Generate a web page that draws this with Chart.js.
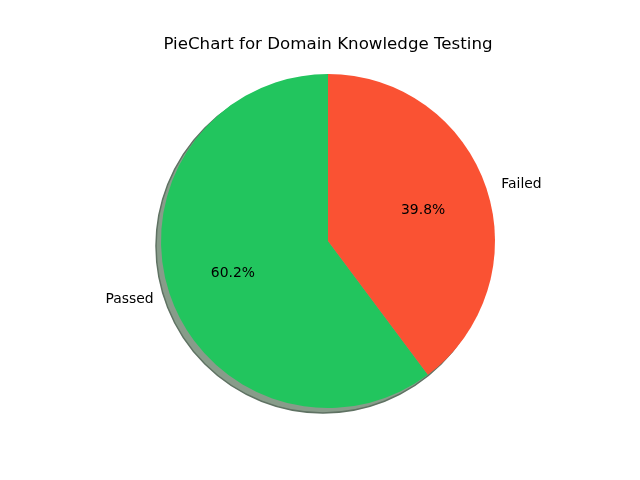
<!DOCTYPE html>
<html><head><meta charset="utf-8">
<script src="https://cdn.jsdelivr.net/npm/chart.js@4"></script>
<style>html,body{margin:0;padding:0;background:#fff;}#wrap{width:640px;height:480px;}</style>
</head><body><div id="wrap"><canvas id="c" width="640" height="480"></canvas></div>
<script>
const categories = ["Passed", "Failed"];
const values = [60.2, 39.8];
const colors = ["#22c55e", "#fa5233"];
const titleText = "PieChart for Domain Knowledge Testing";

const total = values.reduce((a, b) => a + b, 0);
// matplotlib startangle=90, counterclockwise -> Chart.js clockwise rotation
const rotation = 360 - values[0] / total * 360;

const decor = {
  id: 'decor',
  beforeDatasetsDraw(chart) {
    const meta = chart.getDatasetMeta(0);
    const a = meta.data[0];
    if (!a) return;
    const ctx = chart.ctx;
    ctx.save();
    ctx.beginPath();
    ctx.arc(a.x - 5, a.y + 5, a.outerRadius, 0, Math.PI * 2);
    ctx.fillStyle = '#889c8a';
    ctx.fill();
    ctx.lineWidth = 1.5;
    ctx.strokeStyle = '#5f7263';
    ctx.stroke();
    ctx.restore();
  },
  afterDatasetsDraw(chart) {
    const meta = chart.getDatasetMeta(0);
    const ctx = chart.ctx;
    ctx.save();
    ctx.fillStyle = '#000';
    ctx.textBaseline = 'middle';
    meta.data.forEach((arc, i) => {
      const mid = (arc.startAngle + arc.endAngle) / 2;
      const r = arc.outerRadius;
      const cx = Math.cos(mid), cy = Math.sin(mid);
      ctx.font = '13.9px "DejaVu Sans"';
      ctx.textAlign = cx >= 0 ? 'left' : 'right';
      ctx.fillText(categories[i], arc.x + 1.1 * r * cx - (cx >= 0 ? 1 : 0), arc.y + 1.1 * r * cy + 1);
      ctx.textAlign = 'center';
      const pct = (values[i] / total * 100).toFixed(1) + '%';
      ctx.fillText(pct, arc.x + 0.6 * r * cx, arc.y + 0.6 * r * cy + 1);
    });
    ctx.font = '16.67px "DejaVu Sans"';
    ctx.textAlign = 'center';
    ctx.textBaseline = 'middle';
    ctx.fillText(titleText, 328, 45);
    ctx.restore();
  }
};

new Chart(document.getElementById('c'), {
  type: 'pie',
  data: {
    labels: categories,
    datasets: [{
      data: values,
      backgroundColor: colors,
      borderWidth: 0,
      hoverOffset: 0
    }]
  },
  options: {
    responsive: false,
    animation: false,
    rotation: rotation,
    layout: { padding: { top: 74, bottom: 72, left: 161, right: 145 } },
    plugins: {
      legend: { display: false },
      title: { display: false },
      tooltip: { enabled: false }
    }
  },
  plugins: [decor]
});
</script>
</body></html>
